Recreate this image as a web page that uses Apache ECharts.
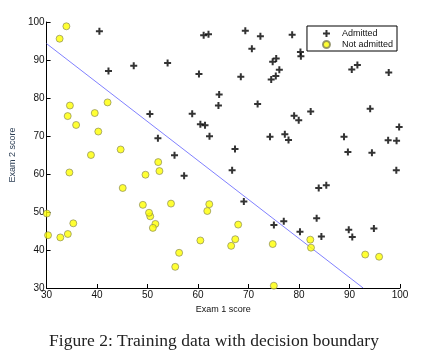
<!DOCTYPE html>
<html><head><meta charset="utf-8">
<script src="https://cdn.jsdelivr.net/npm/echarts@6/dist/echarts.min.js"></script>
<style>html,body{margin:0;padding:0;background:#fff}#c{width:428px;height:355px}</style>
</head><body><div id="c"></div>
<script>
// Exam scores: [exam1, exam2]
const admitted = [
[60.18,86.31],[79.03,75.34],[61.11,96.51],[75.02,46.55],[76.10,87.42],[84.43,43.53],
[82.31,76.48],[69.36,97.72],[53.97,89.21],[69.07,52.74],[70.66,92.93],[76.98,47.58],
[89.68,65.80],[77.92,68.97],[62.27,69.95],[80.19,44.82],[61.38,72.81],[85.40,57.05],
[52.05,69.43],[64.18,80.91],[83.90,56.31],[94.44,65.57],[77.19,70.46],[97.77,86.73],
[62.07,96.77],[91.56,88.70],[79.94,74.16],[99.27,61.00],[90.55,43.39],[97.65,68.86],
[74.25,69.82],[71.80,78.45],[75.40,85.76],[40.46,97.54],[80.28,92.12],[66.75,60.99],
[64.04,78.03],[72.35,96.23],[60.46,73.09],[58.84,75.86],[99.83,72.37],[47.26,88.48],
[50.46,75.81],[88.91,69.80],[94.83,45.69],[67.32,66.59],[57.24,59.51],[80.37,90.96],
[68.47,85.59],[75.48,90.42],[78.64,96.65],[94.09,77.16],[90.45,87.51],[74.49,84.85],
[89.85,45.36],[83.49,48.38],[42.26,87.10],[99.32,68.78],[55.34,64.93],[74.78,89.53]
];
const notAdmitted = [
[34.62,78.02],[30.29,43.89],[35.85,72.90],[45.08,56.32],[95.86,38.23],[75.01,30.60],
[39.54,76.04],[67.95,46.68],[67.37,42.84],[50.53,48.86],[34.21,44.21],[93.11,38.80],
[61.83,50.26],[38.79,65.00],[52.11,63.13],[40.24,71.17],[54.64,52.21],[33.92,98.87],
[74.79,41.57],[34.18,75.24],[51.55,46.86],[82.37,40.62],[51.05,45.82],[62.22,52.06],
[34.52,60.40],[50.29,49.80],[49.59,59.81],[32.58,95.60],[35.29,47.02],[56.25,39.26],
[30.06,49.59],[44.67,66.45],[66.56,41.09],[49.07,51.88],[32.72,43.31],[60.46,42.51],
[82.23,42.72],[42.08,78.84],[52.35,60.77],[55.48,35.57]
];
const boundaryX = [30, 92.7];
const boundaryY = [94.3, 30];
const xTicks = [30,40,50,60,70,80,90,100];
const yTicks = [30,40,50,60,70,80,90,100];

const plusPath = 'path://M2.5,0H4.5V2.5H7V4.5H4.5V7H2.5V4.5H0V2.5H2.5Z';
const chart = echarts.init(document.getElementById('c'));
const font = 'Liberation Sans, Arial, sans-serif';
chart.setOption({
  animation: false,
  grid: {left: 45.5, right: 28, top: 22, bottom: 67},
  title: {
    text: 'Figure 2: Training data with decision boundary',
    left: 'center', top: 327,
    textStyle: {fontFamily: 'Liberation Serif, DejaVu Serif, serif', fontWeight: 'normal', fontSize: 17.5, color: '#222'}
  },
  legend: {
    orient: 'vertical', right: 31, top: 26,
    data: ['Admitted', 'Not admitted'],
    borderColor: '#000', borderWidth: 1, borderRadius: 0,
    padding: [3, 4, 2, 15], itemGap: 2,
    itemWidth: 7, itemHeight: 7,
    textStyle: {fontFamily: font, fontSize: 9, color: '#111', padding: [0,0,0,7]}
  },
  xAxis: {
    type: 'value', min: 30, max: 100, interval: 10,
    name: 'Exam 1 score', nameLocation: 'middle', nameGap: 14,
    nameTextStyle: {fontFamily: font, fontSize: 9, color: '#111'},
    axisLine: {show: true, lineStyle: {color: '#000', width: 1}},
    axisTick: {show: true, inside: true, length: 4, lineStyle: {color: '#000'}},
    axisLabel: {fontFamily: font, fontSize: 10, color: '#111', margin: 2,
      formatter: v => xTicks.includes(v) ? String(v) : ''},
    splitLine: {show: false}
  },
  yAxis: {
    type: 'value', min: 30, max: 100, interval: 10,
    name: 'Exam 2 score', nameLocation: 'middle', nameGap: 23,
    nameTextStyle: {fontFamily: font, fontSize: 9, color: '#2d3f55'},
    axisLine: {show: true, lineStyle: {color: '#000', width: 1}},
    axisTick: {show: true, inside: true, length: 4, lineStyle: {color: '#000'}},
    axisLabel: {fontFamily: font, fontSize: 10, color: '#111', margin: 2,
      formatter: v => yTicks.includes(v) ? String(v) : ''},
    splitLine: {show: false}
  },
  series: [
    {
      name: 'Admitted', type: 'scatter', data: admitted,
      symbol: plusPath, symbolSize: 7,
      itemStyle: {color: '#000'}, z: 3
    },
    {
      name: 'Not admitted', type: 'scatter', data: notAdmitted,
      symbol: 'circle', symbolSize: 7,
      itemStyle: {color: '#ffff00', borderColor: '#7f7f55', borderWidth: 0.8}, z: 3
    },
    {
      name: 'Boundary', type: 'line',
      data: boundaryX.map((x, i) => [x, boundaryY[i]]),
      symbol: 'none', lineStyle: {color: '#8080ff', width: 1}, z: 2
    }
  ]
});
</script></body></html>
